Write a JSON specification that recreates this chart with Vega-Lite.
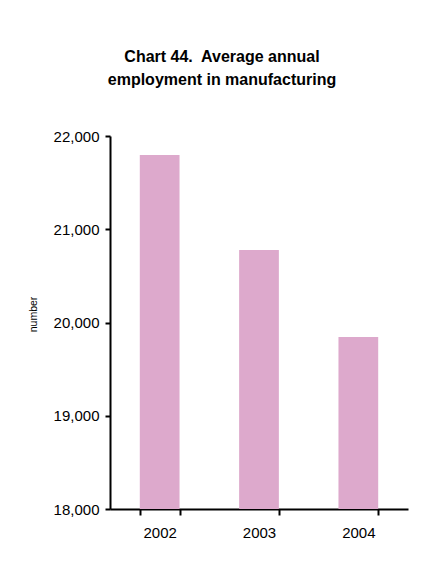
{
  "$schema": "https://vega.github.io/schema/vega-lite/v6.json",
  "autosize": {"type": "none"},
  "padding": {"left": 110, "top": 136, "right": 25, "bottom": 54},
  "width": 298,
  "height": 373,
  "background": "white",
  "title": {
    "text": ["Chart 44.\u00a0 Average annual", "employment in manufacturing"],
    "font": "Liberation Sans",
    "fontSize": 16,
    "fontWeight": "bold",
    "color": "black",
    "lineHeight": 23,
    "anchor": "middle",
    "frame": "group",
    "dx": -37,
    "offset": 41
  },
  "data": {
    "values": [
      {"year": "2002", "number": 21796},
      {"year": "2003", "number": 20778},
      {"year": "2004", "number": 19845}
    ]
  },
  "mark": {"type": "bar", "color": "#dda9cc"},
  "encoding": {
    "x": {
      "field": "year",
      "type": "nominal",
      "scale": {"paddingInner": 0.6, "paddingOuter": 0.3},
      "axis": {
        "title": null,
        "labelAngle": 0,
        "tickBand": "extent",
        "labelPadding": 10,
        "tickSize": 6
      }
    },
    "y": {
      "field": "number",
      "type": "quantitative",
      "scale": {"domain": [18000, 22000], "nice": false, "zero": false},
      "axis": {
        "title": "number",
        "values": [18000, 19000, 20000, 21000, 22000],
        "format": ",.0f",
        "grid": false,
        "tickSize": 5,
        "labelPadding": 6,
        "titleFontSize": 10.5,
        "titleFontWeight": "normal",
        "titlePadding": 15,
        "titleY": 178
      }
    },
    "y2": {"datum": 18000}
  },
  "config": {
    "view": {"stroke": null},
    "font": "Liberation Sans",
    "axis": {
      "domainColor": "black",
      "domainWidth": 2,
      "tickColor": "black",
      "tickWidth": 2,
      "labelColor": "black",
      "labelFontSize": 15,
      "titleColor": "black",
      "labelFont": "Liberation Sans",
      "titleFont": "Liberation Sans"
    }
  }
}
